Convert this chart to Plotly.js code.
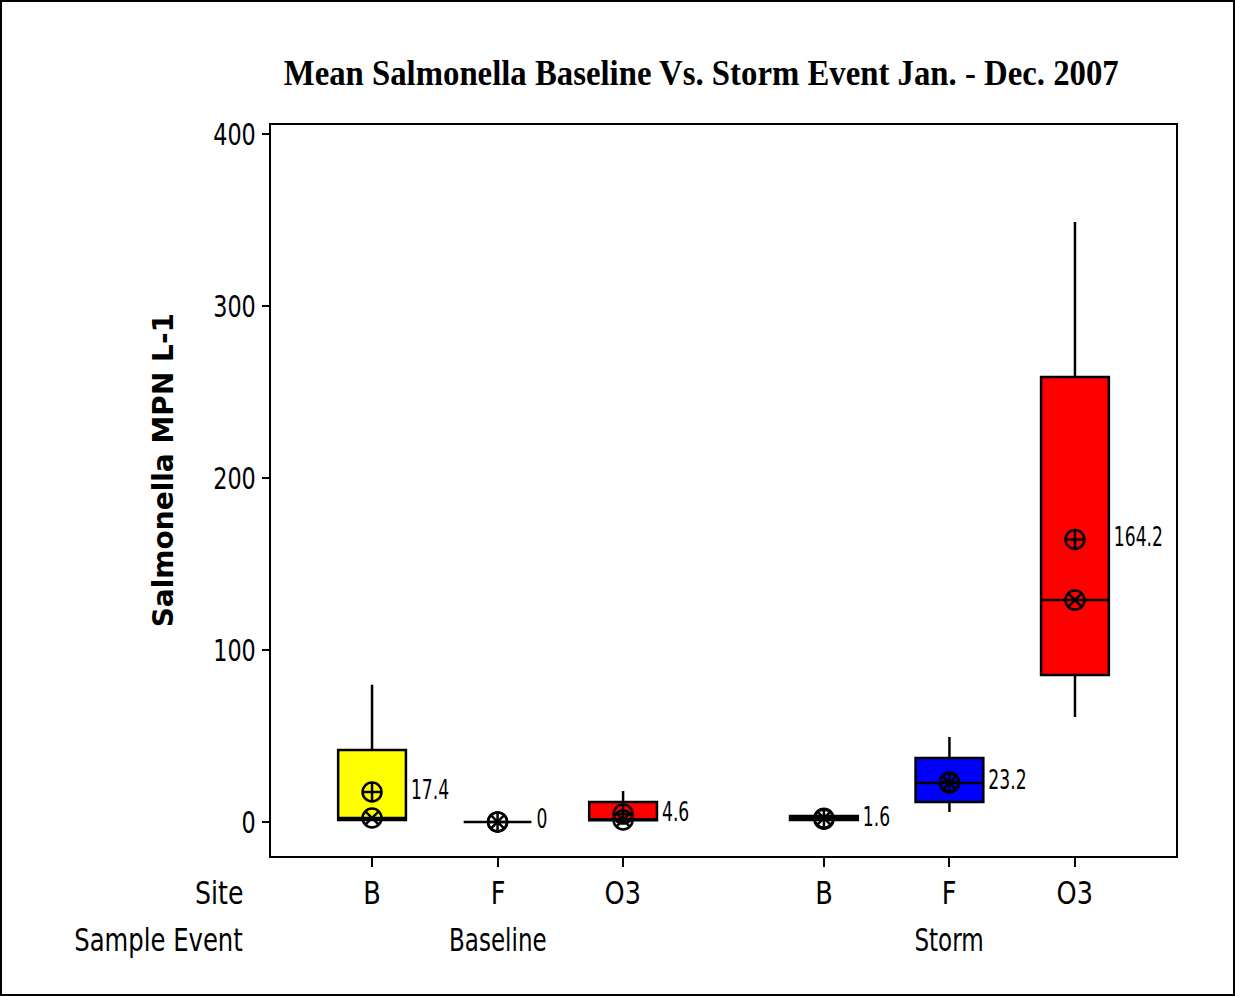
<!DOCTYPE html>
<html>
<head>
<meta charset="utf-8">
<script src="https://cdn.plot.ly/plotly-3.0.1.min.js"></script>
<style>
html,body{margin:0;padding:0;background:#fff;}
#frame{width:1235px;height:996px;box-sizing:border-box;border:2px solid #000;background:#fff;}
#chart{width:1231px;height:992px;}
</style>
</head>
<body>
<div id="frame"><div id="chart"></div></div>
<script>
// ---- data ----
const sites   = ['B', 'F', 'O3', 'B', 'F', 'O3'];
const events  = ['Baseline', 'Baseline', 'Baseline', 'Storm', 'Storm', 'Storm'];
const q1      = [1.2, 0, 1.0, 1.2, 11.6, 85.5];
const medians = [2.3, 0, 1.2, 2.2, 22.7, 129];
const q3      = [41.9, 0, 11.6, 3.5, 37.2, 258.7];
const lowerW  = [1.2, 0, 1.0, 1.2, 5.8, 61];
const upperW  = [79.7, 0, 18, 3.5, 49.4, 348.8];
const means   = [17.4, 0, 4.6, 1.6, 23.2, 164.2];
const meanLabels = ['17.4', '0', '4.6', '1.6', '23.2', '164.2'];
const fills   = ['#FFFF00', '#FFFF00', '#FF0000', '#FFFF00', '#0000FF', '#FF0000'];
const eventNames = ['Baseline', 'Storm'];
const yTicks  = [0, 100, 200, 300, 400];

// category positions: sites within an event, extra gap between events
const groupGap = 0.6;
const xpos = sites.map((s, i) => {
  const g = eventNames.indexOf(events[i]);
  return i + 1 + g * groupGap;
});

const sans = '"DejaVu Sans", Verdana, sans-serif';
const boxW = 0.54;

const traces = [];
sites.forEach((s, i) => {
  traces.push({
    type: 'box',
    x: [xpos[i]],
    q1: [q1[i]], median: [medians[i]], q3: [q3[i]],
    lowerfence: [lowerW[i]], upperfence: [upperW[i]],
    width: boxW,
    whiskerwidth: 0,
    fillcolor: fills[i],
    line: {color: '#000', width: 2.5},
    boxpoints: false,
    hoverinfo: 'skip',
    showlegend: false
  });
});
// median symbol
traces.push({
  type: 'scatter', mode: 'markers', x: xpos, y: medians,
  marker: {symbol: 'circle-x-open', size: 19, color: '#000', line: {width: 2.5, color: '#000'}},
  hoverinfo: 'skip', showlegend: false
});
// mean symbol
traces.push({
  type: 'scatter', mode: 'markers', x: xpos, y: means,
  marker: {symbol: 'circle-cross-open', size: 19, color: '#000', line: {width: 2.5, color: '#000'}},
  hoverinfo: 'skip', showlegend: false
});
// mean labels
traces.push({
  type: 'scatter', mode: 'text', x: xpos.map(v => v + boxW / 2 + 0.04), y: means,
  text: meanLabels, textposition: 'middle right',
  textfont: {family: sans, size: 26, color: '#000'},
  hoverinfo: 'skip', showlegend: false
});

const annotations = [];
const annSqueeze = [];
sites.forEach((s, i) => {
  annotations.push({xref: 'x', yref: 'paper', x: xpos[i], y: -0.051, text: s, showarrow: false,
    xanchor: 'center', yanchor: 'middle', font: {family: sans, size: 32, color: '#000'}});
  annSqueeze.push(0.8);
});
eventNames.forEach(ev => {
  const idx = events.map((e, i) => e === ev ? i : -1).filter(i => i >= 0);
  const cx = (xpos[idx[0]] + xpos[idx[idx.length - 1]]) / 2;
  annotations.push({xref: 'x', yref: 'paper', x: cx, y: -0.115, text: ev, showarrow: false,
    xanchor: 'center', yanchor: 'middle', font: {family: sans, size: 32, color: '#000'}});
  annSqueeze.push(0.72);
});
annotations.push({xref: 'paper', yref: 'paper', x: -0.029, y: -0.051, text: 'Site', showarrow: false,
  xanchor: 'right', yanchor: 'middle', font: {family: sans, size: 32, color: '#000'}});
annSqueeze.push(0.79);
annotations.push({xref: 'paper', yref: 'paper', x: -0.029, y: -0.115, text: 'Sample Event', showarrow: false,
  xanchor: 'right', yanchor: 'middle', font: {family: sans, size: 32, color: '#000'}});
annSqueeze.push(0.76);
annotations.push({xref: 'paper', yref: 'paper', x: -0.119, y: 0.528, text: '<b>Salmonella MPN L-1</b>', showarrow: false,
  textangle: -90, xanchor: 'center', yanchor: 'middle', font: {family: sans, size: 28, color: '#000'}});
annSqueeze.push(1);

const pad = 0.805;
const layout = {
  width: 1231, height: 992,
  paper_bgcolor: '#fff', plot_bgcolor: '#fff',
  margin: {l: 269, r: 57, t: 123, b: 138},
  title: {text: '<b>Mean Salmonella Baseline Vs. Storm Event Jan. - Dec. 2007</b>',
    xref: 'container', yref: 'container', x: 0.568, y: 0.929, xanchor: 'center', yanchor: 'middle',
    font: {family: '"Liberation Serif", "Times New Roman", serif', size: 36, color: '#000'}},
  xaxis: {
    range: [xpos[0] - pad, xpos[xpos.length - 1] + pad],
    tickvals: xpos, showticklabels: false,
    ticks: 'outside', ticklen: 9, tickwidth: 2, tickcolor: '#000',
    showline: true, linecolor: '#000', linewidth: 2, mirror: true,
    showgrid: false, zeroline: false, fixedrange: true
  },
  yaxis: {
    range: [-19.8, 405.2],
    tickvals: yTicks, ticktext: yTicks.map(String),
    ticks: 'outside', ticklen: 7, tickwidth: 2, tickcolor: '#000',
    tickfont: {family: sans, size: 31, color: '#000'},
    showline: true, linecolor: '#000', linewidth: 2, mirror: true,
    showgrid: false, zeroline: false, fixedrange: true
  },
  annotations: annotations,
  boxmode: 'overlay'
};

// condense text horizontally to imitate the narrow font of the original,
// keeping the left / centre / right edge where the library put it
function squeeze(el, f, keep) {
  if (!el || f === 1) return;
  const b0 = el.getBBox();
  const len = el.getComputedTextLength();
  el.setAttribute('textLength', (len * f).toFixed(1));
  el.setAttribute('lengthAdjust', 'spacingAndGlyphs');
  if (!keep) return;
  const b1 = el.getBBox();
  let dx = 0;
  if (keep === 'right') dx = (b0.x + b0.width) - (b1.x + b1.width);
  else if (keep === 'left') dx = b0.x - b1.x;
  else dx = (b0.x + b0.width / 2) - (b1.x + b1.width / 2);
  if (Math.abs(dx) > 0.1) {
    const x = parseFloat(el.getAttribute('x') || '0');
    el.setAttribute('x', (x + dx).toFixed(2));
  }
}

Plotly.newPlot('chart', traces, layout, {displayModeBar: false, staticPlot: true}).then(gd => {
  gd.querySelectorAll('.ytick text').forEach(t => squeeze(t, 0.72, 'right'));
  gd.querySelectorAll('.textpoint text').forEach(t => squeeze(t, 0.66, 'left'));
  const title = gd.querySelector('.gtitle');
  if (title) squeeze(title, 835 / title.getComputedTextLength(), 'center');
  gd.querySelectorAll('.annotation').forEach(a => {
    const i = +a.getAttribute('data-index');
    squeeze(a.querySelector('text.annotation-text'), annSqueeze[i], annotations[i].xanchor);
  });
});
</script>
</body>
</html>
